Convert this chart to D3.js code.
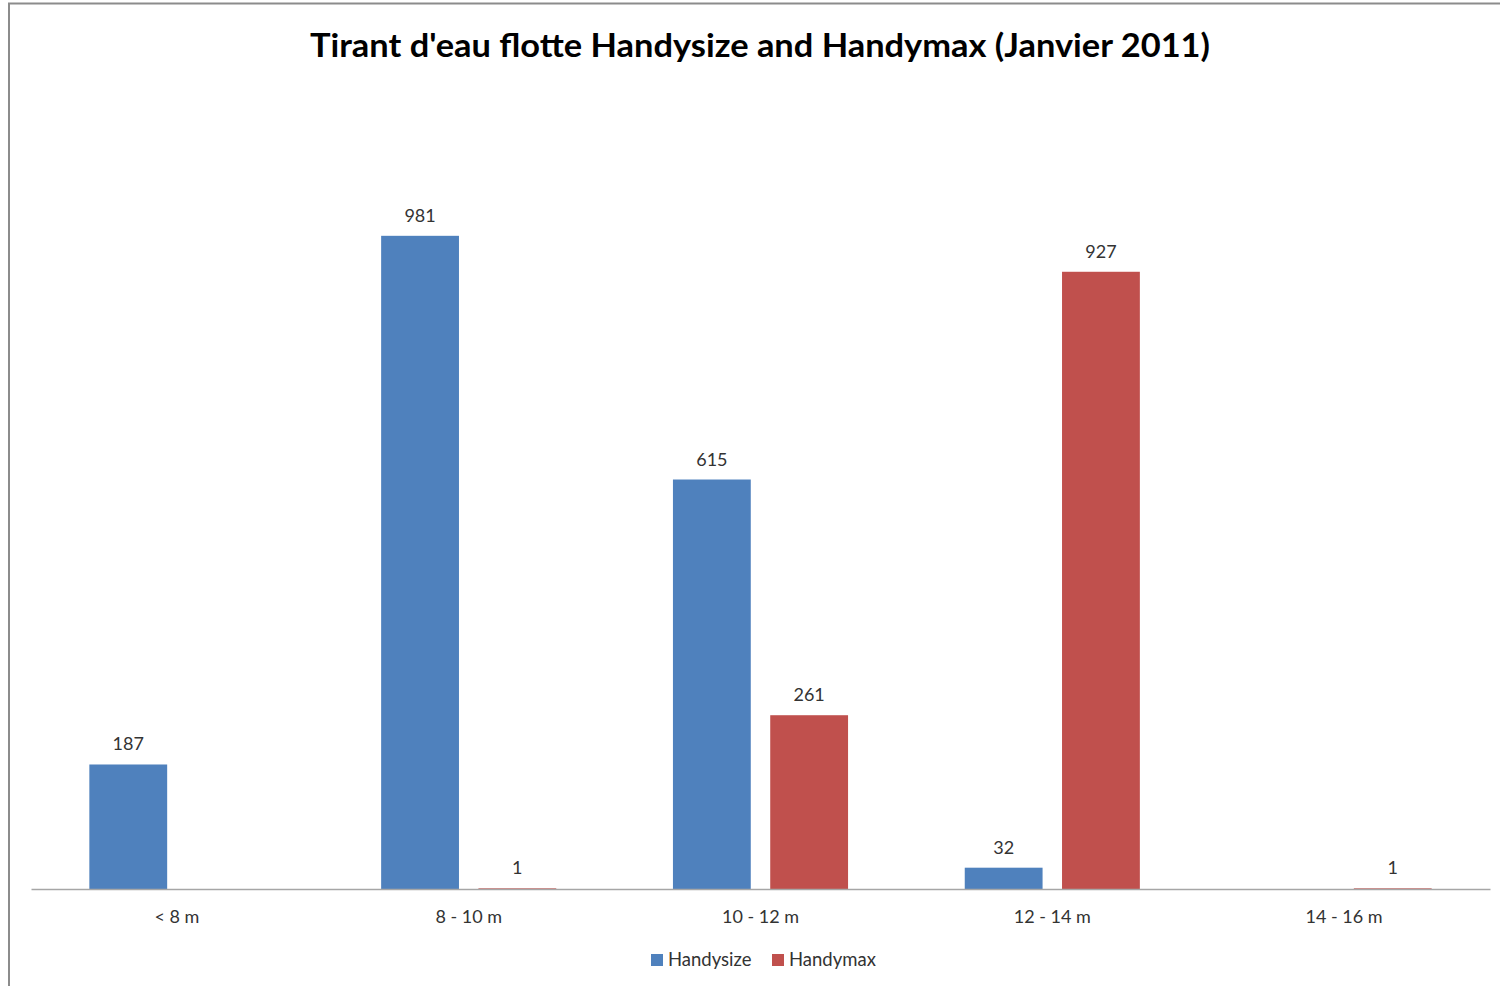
<!DOCTYPE html>
<html><head><meta charset="utf-8">
<script src="https://cdn.jsdelivr.net/npm/d3@7"></script>
<style>html,body{margin:0;padding:0;background:#fff;}svg{display:block;}</style>
</head><body>
<svg id="chart" width="1500" height="986"></svg>
<script>
const categories = ["< 8 m", "8 - 10 m", "10 - 12 m", "12 - 14 m", "14 - 16 m"];
const seriesNames = ["Handysize", "Handymax"];
const handysize = [187, 981, 615, 32, null];
const handymax = [null, 1, 261, 927, 1];
const colors = ["#4F81BD", "#C0504D"];
const titleText = "Tirant d'eau flotte Handysize and Handymax (Janvier 2011)";

const svg = d3.select("#chart");
const font = "Lato, 'Open Sans', sans-serif";

// outer border
svg.append("rect").attr("x", 9).attr("y", 3.5).attr("width", 1600).attr("height", 1100)
  .attr("fill", "none").attr("stroke", "#8c8c8c").attr("stroke-width", 2);

const x0 = d3.scaleBand().domain(categories).range([31, 1490]).padding(0);
const y = d3.scaleLinear().domain([0, 1200]).range([889, 90]);

const bw = x0.bandwidth();
const barW = bw * 0.2667, gap = bw * 0.0667;
const groupW = barW * 2 + gap;
const x1 = d3.scaleOrdinal().domain(seriesNames).range([ (bw - groupW) / 2, (bw - groupW) / 2 + barW + gap ]);

const data = [];
categories.forEach((c, i) => {
  [handysize, handymax].forEach((arr, s) => {
    if (arr[i] !== null) data.push({cat: c, series: seriesNames[s], value: arr[i], color: colors[s]});
  });
});

svg.append("g").selectAll("rect").data(data).join("rect")
  .attr("x", d => x0(d.cat) + x1(d.series))
  .attr("y", d => y(d.value))
  .attr("width", barW)
  .attr("height", d => y(0) - y(d.value))
  .attr("fill", d => d.color);

svg.append("g").selectAll("text").data(data).join("text")
  .attr("x", d => x0(d.cat) + x1(d.series) + barW / 2)
  .attr("y", d => y(d.value) - 14)
  .attr("text-anchor", "middle")
  .attr("font-family", font).attr("font-size", 18).attr("fill", "#333")
  .text(d => d.value);

// x axis
const xAxis = d3.axisBottom(x0).tickSize(0).tickPadding(21);
const gx = svg.append("g").attr("transform", `translate(0,${y(0)})`).call(xAxis);
gx.select(".domain").attr("stroke", "#a6a6a6").attr("stroke-width", 1.5);
gx.selectAll("text").attr("font-family", font).attr("font-size", 18).attr("fill", "#333");

// title
svg.append("text").attr("x", 760).attr("y", 57).attr("text-anchor", "middle")
  .attr("font-family", font).attr("font-weight", "bold").attr("font-size", 32).attr("fill", "#000")
  .attr("textLength", 900).attr("lengthAdjust", "spacingAndGlyphs")
  .text(titleText);

// legend
const legendX = [651, 772];
const lg = svg.append("g").selectAll("g").data(seriesNames).join("g")
  .attr("transform", (d, i) => `translate(${legendX[i]},954)`);
lg.append("rect").attr("width", 12).attr("height", 12).attr("fill", (d, i) => colors[i]);
lg.append("text").attr("x", 17).attr("y", 12).attr("font-family", font).attr("font-size", 18.5)
  .attr("fill", "#333").text(d => d);
</script>
</body></html>
